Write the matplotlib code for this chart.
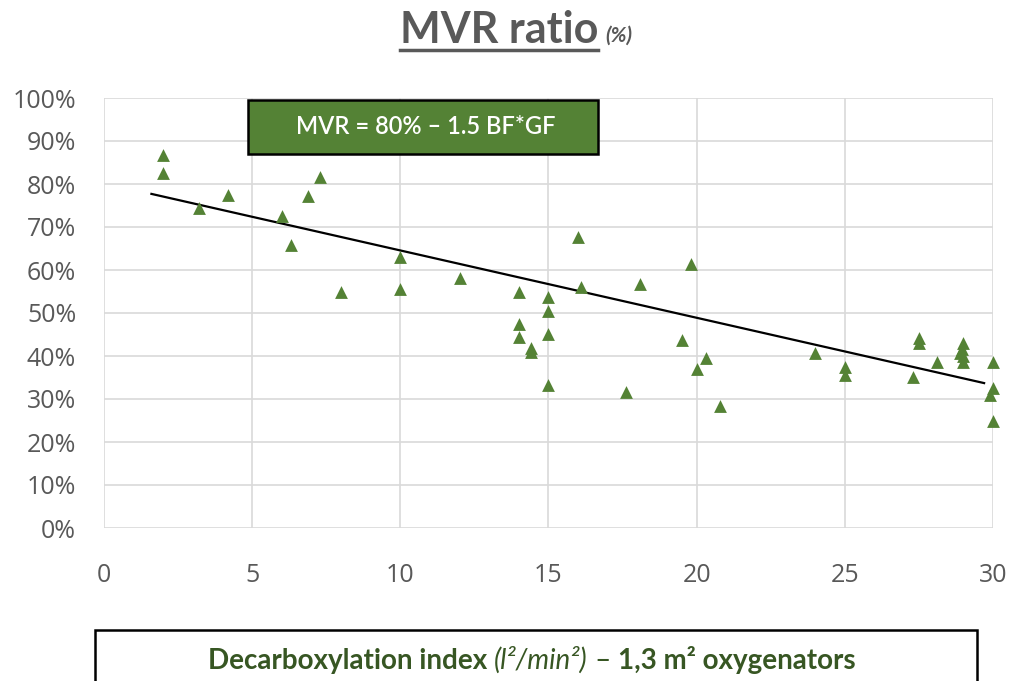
import matplotlib
matplotlib.use("Agg")
import matplotlib.pyplot as plt
from matplotlib.patches import Rectangle
from matplotlib.lines import Line2D
from matplotlib.ticker import PercentFormatter

# decarboxylation index vs MVR ratio (fraction)
dec_index = [2.0, 2.0, 3.2, 4.2, 6.0, 6.3, 6.9, 7.3, 8.0, 10.0, 10.0, 12.0,
             14.0, 14.0, 14.0, 14.4, 14.4, 15.0, 15.0, 15.0, 15.0, 16.0, 16.1,
             17.6, 18.1, 19.5, 19.8, 20.0, 20.3, 20.8, 24.0, 25.0, 25.0, 27.3,
             27.5, 27.5, 28.1, 28.9, 28.95, 29.0, 29.0, 29.0, 30.0, 30.0, 29.9, 30.0]
mvr_ratio = [0.867, 0.826, 0.744, 0.774, 0.726, 0.658, 0.772, 0.816, 0.549, 0.630, 0.556, 0.581,
             0.549, 0.474, 0.444, 0.419, 0.410, 0.538, 0.505, 0.451, 0.333, 0.676, 0.561,
             0.317, 0.567, 0.437, 0.615, 0.369, 0.395, 0.284, 0.406, 0.375, 0.355, 0.352,
             0.441, 0.430, 0.387, 0.407, 0.416, 0.430, 0.400, 0.387, 0.387, 0.326, 0.309, 0.249]

trend_x = [1.6, 29.7]
trend_y = [0.777, 0.337]

x_ticks = [0, 5, 10, 15, 20, 25, 30]
y_ticks = [0, 0.1, 0.2, 0.3, 0.4, 0.5, 0.6, 0.7, 0.8, 0.9, 1.0]

green = "#548235"
dark_green = "#375623"
grey = "#595959"
grid = "#d9d9d9"
lato = ["Lato", "DejaVu Sans"]

plt.rcParams["font.family"] = ["Open Sans", "DejaVu Sans"]

fig = plt.figure(figsize=(10.12, 6.81), dpi=100, facecolor="white")
ax = fig.add_axes([104 / 1012, 1 - 528 / 681, 889 / 1012, 430 / 681])

ax.scatter(dec_index, mvr_ratio, marker="^", s=85, color=green, linewidths=0,
           zorder=3, clip_on=False)
ax.plot(trend_x, trend_y, color="black", lw=1.6, zorder=2)

ax.set_xlim(0, 30)
ax.set_ylim(0, 1)
ax.set_xticks(x_ticks)
ax.set_yticks(y_ticks)
ax.yaxis.set_major_formatter(PercentFormatter(1.0, decimals=0))
ax.grid(True, color=grid, lw=1.2, zorder=0)
for s in ax.spines.values():
    s.set_visible(False)
ax.tick_params(axis="both", length=0, labelsize=18, labelcolor=grey)
ax.tick_params(axis="y", pad=20)
ax.tick_params(axis="x", pad=25)

renderer = fig.canvas.get_renderer()


def rich_text(x_center, y, pieces, **common):
    # lay out styled pieces side by side, centered on x_center (figure px)
    texts = []
    for s, kw in pieces:
        t = fig.text(0, y, s, ha="left", va="baseline", **common, **kw)
        texts.append(t)
    widths = [t.get_window_extent(renderer).width for t in texts]
    x = x_center - sum(widths) / 2
    for t, w in zip(texts, widths):
        t.set_x(x / 1012)
        x += w
    return texts


# title
title = fig.text(598 / 1012, 1 - 43 / 681, "MVR ratio", ha="right", va="baseline",
                 fontsize=31, fontweight="bold", color=grey, family=lato)
fig.text(605 / 1012, 1 - 42 / 681, "(%)", ha="left", va="baseline",
         fontsize=15, fontstyle="italic", fontweight="bold", color=grey, family=lato)
tb = title.get_window_extent(renderer)
fig.add_artist(Line2D([tb.x0 / 1012, 598 / 1012], [1 - 50 / 681, 1 - 50 / 681],
                      color=grey, lw=2.5, transform=fig.transFigure))

# equation box
fig.add_artist(Rectangle((248 / 1012, 1 - 154 / 681), 350 / 1012, 54 / 681,
                         transform=fig.transFigure, facecolor=green,
                         edgecolor="black", lw=1.8, zorder=5))
fig.text(426 / 1012, 1 - 127 / 681, "MVR = 80% \u2013 1.5 BF*GF", ha="center",
         va="center", fontsize=17, color="white", zorder=6,
         family=lato, fontweight="semibold")

# x axis label box
fig.add_artist(Rectangle((95 / 1012, -0.05), 882 / 1012, 0.05 + 51 / 681,
                         transform=fig.transFigure, facecolor="white",
                         edgecolor="black", lw=1.8, zorder=5))
rich_text(532, 1 - 669 / 681, [
    ("Decarboxylation index ", dict(fontweight="bold")),
    ("(l\u00b2/min\u00b2)", dict(fontstyle="italic")),
    (" \u2013 ", dict()),
    ("1,3 m\u00b2 oxygenators", dict(fontweight="bold")),
], fontsize=20, color=dark_green, zorder=6, family=lato)

fig.savefig("out.png", dpi=100, facecolor="white")
